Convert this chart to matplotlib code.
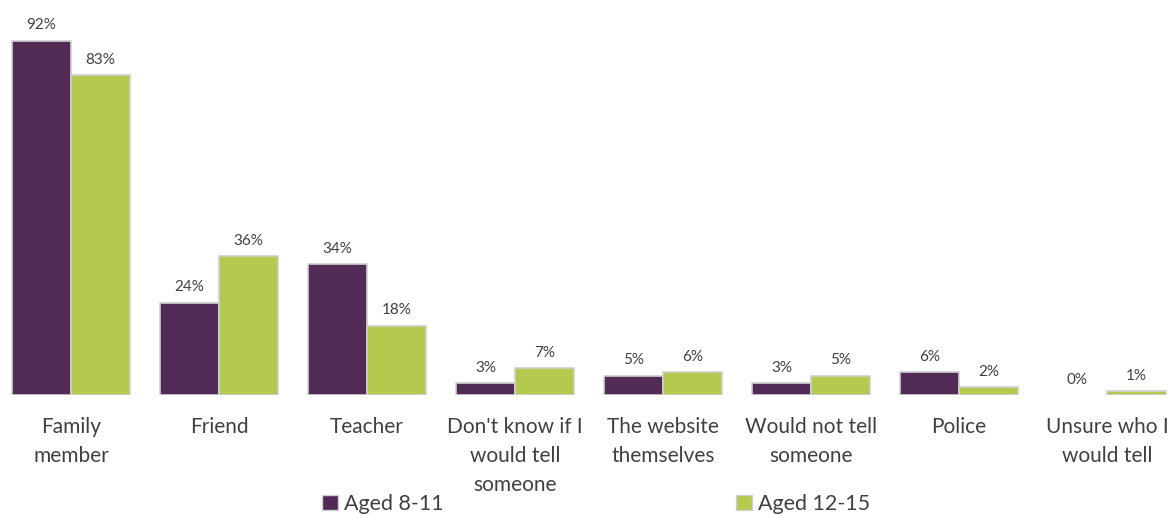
import matplotlib
matplotlib.use("Agg")
import matplotlib.pyplot as plt
import numpy as np
from matplotlib.patches import Patch

categories = ["Family\nmember", "Friend", "Teacher", "Don't know if I\nwould tell\nsomeone",
              "The website\nthemselves", "Would not tell\nsomeone", "Police", "Unsure who I\nwould tell"]
series_names = ["Aged 8-11", "Aged 12-15"]
aged_8_11 = [92, 24, 34, 3, 5, 3, 6, 0]
aged_12_15 = [83, 36, 18, 7, 6, 5, 2, 1]
colors = ["#522A56", "#B5C94F"]

plt.rcParams['font.family'] = ['Lato', 'DejaVu Sans']
text_color = "#404040"

W, H = 1169, 514
fig = plt.figure(figsize=(W / 100, H / 100), dpi=100)
ax = fig.add_axes([0, 119 / H, 1, 385 / H])

x = np.arange(len(categories))
bw = 0.4
for i, (vals, col) in enumerate(zip([aged_8_11, aged_12_15], colors)):
    pos = x + (i - 0.5) * bw
    bars = ax.bar(pos, vals, width=bw, color=col, edgecolor="#D0D0D0", linewidth=1.2, label=series_names[i])
    for b, v in zip(bars, vals):
        if v == 0:
            b.set_edgecolor("none")
    for p, v in zip(pos, vals):
        ax.annotate(f"{v}%", (p, v), xytext=(0, 6), textcoords="offset points",
                    ha="center", va="bottom", fontsize=11, color=text_color)

ax.set_xlim(-71 / 148, (W - 71) / 148)
ax.set_ylim(0, 100)
for s in ax.spines.values():
    s.set_visible(False)
ax.set_yticks([])
ax.set_xticks(x)
ax.set_xticklabels(categories, fontsize=15, color=text_color, linespacing=1.55)
ax.tick_params(axis="x", length=0, pad=16)

h1 = [Patch(facecolor=colors[0], edgecolor="#D0D0D0")]
h2 = [Patch(facecolor=colors[1], edgecolor="#D0D0D0")]
for h, name, px in [(h1, series_names[0], 322), (h2, series_names[1], 736)]:
    leg = fig.legend(h, [name], loc="center left", bbox_to_anchor=(px / W, 10 / H),
                     frameon=False, fontsize=15.5, handlelength=0.75, handleheight=0.75,
                     handletextpad=0.25, borderpad=0, borderaxespad=0)
    for t in leg.get_texts():
        t.set_color(text_color)

fig.savefig("out.png", dpi=100)
